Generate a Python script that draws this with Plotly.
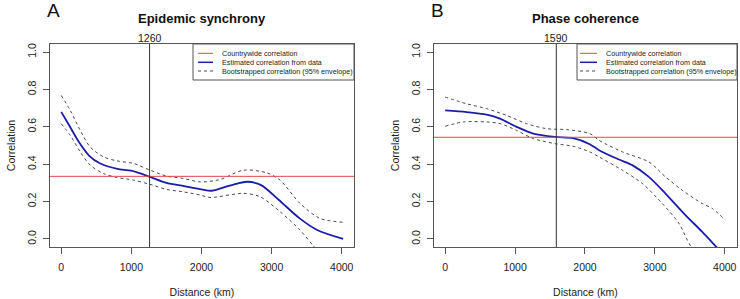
import plotly.graph_objects as go

# ---------------- data ----------------
dist_A_est = [0, 125, 250, 400, 550, 800, 1000, 1260, 1500, 1750, 2000, 2150, 2400, 2650, 2850, 3100, 3400, 3650, 4020]
corr_A_est = [0.68, 0.60, 0.52, 0.445, 0.405, 0.375, 0.365, 0.333, 0.30, 0.283, 0.265, 0.258, 0.285, 0.306, 0.288, 0.21, 0.11, 0.048, 0.0]
dist_A_up = [0, 128, 271, 413, 603, 793, 1030, 1268, 1505, 1742, 1980, 2265, 2597, 2930, 3120, 3405, 3690, 4020]
corr_A_up = [0.768, 0.688, 0.581, 0.492, 0.439, 0.418, 0.404, 0.368, 0.336, 0.324, 0.305, 0.318, 0.368, 0.354, 0.315, 0.19, 0.11, 0.089]
dist_A_lo = [0, 128, 271, 413, 603, 793, 1030, 1258, 1505, 1742, 1980, 2123, 2597, 2835, 3120, 3405, 3595, 3800, 4020]
corr_A_lo = [0.617, 0.555, 0.466, 0.395, 0.35, 0.329, 0.315, 0.293, 0.265, 0.252, 0.235, 0.222, 0.244, 0.226, 0.146, 0.048, -0.037, -0.12, -0.2]

dist_B_est = [0, 309, 594, 785, 1021, 1260, 1569, 1830, 2068, 2201, 2486, 2676, 2914, 3152, 3437, 3675, 3865, 4020]
corr_B_est = [0.688, 0.679, 0.665, 0.644, 0.60, 0.564, 0.546, 0.539, 0.507, 0.475, 0.425, 0.395, 0.332, 0.243, 0.128, 0.039, -0.037, -0.10]
dist_B_up = [0, 309, 594, 879, 1164, 1450, 1735, 2068, 2201, 2534, 2914, 3152, 3390, 3675, 3818, 4008]
corr_B_up = [0.759, 0.723, 0.697, 0.661, 0.617, 0.59, 0.585, 0.564, 0.528, 0.466, 0.412, 0.332, 0.261, 0.19, 0.164, 0.101]
dist_B_lo = [0, 261, 594, 785, 1021, 1260, 1569, 1830, 2068, 2201, 2534, 2819, 3105, 3343, 3510, 3750, 4020]
corr_B_lo = [0.603, 0.626, 0.626, 0.617, 0.581, 0.537, 0.51, 0.496, 0.466, 0.439, 0.368, 0.297, 0.19, 0.084, -0.037, -0.15, -0.27]

countrywide = [0.335, 0.544]
threshold = [1260, 1590]
panel_titles = ["Epidemic synchrony", "Phase coherence"]
panel_letters = ["A", "B"]
legend_labels = ["Countrywide correlation", "Estimated correlation from data",
                 "Bootstrapped correlation (95% envelope)"]
x_ticks = [0, 1000, 2000, 3000, 4000]
y_ticks = [0.0, 0.2, 0.4, 0.6, 0.8, 1.0]

# ---------------- style ----------------
W, H = 740, 299
FONT = "Liberation Sans, Arial, Helvetica, sans-serif"
BLUE = "#1c1caa"
RED = "#e04848"
DASH = "#4a4a4a"
AX = "#555555"

def px(x):
    return x / W

def py(y):
    return 1 - y / H

fig = go.Figure()

series = [
    (dist_A_est, corr_A_est, dist_A_up, corr_A_up, dist_A_lo, corr_A_lo),
    (dist_B_est, corr_B_est, dist_B_up, corr_B_up, dist_B_lo, corr_B_lo),
]
for i, (xe, ye, xu, yu, xl, yl) in enumerate(series):
    xa = "x" if i == 0 else "x2"
    ya = "y" if i == 0 else "y2"
    for xx, yy in ((xu, yu), (xl, yl)):
        fig.add_trace(go.Scatter(x=xx, y=yy, mode="lines", xaxis=xa, yaxis=ya,
                                 line=dict(color=DASH, width=1, dash="3px,3px", shape="spline", smoothing=0.8),
                                 showlegend=False, hoverinfo="skip"))
    fig.add_trace(go.Scatter(x=xe, y=ye, mode="lines", xaxis=xa, yaxis=ya,
                             line=dict(color=BLUE, width=1.8, shape="spline", smoothing=0.8),
                             showlegend=False))

box_left = [50, 434]
box_right = [354, 737]
box_top, box_bot = 44, 247

axis_common = dict(showline=True, linecolor=AX, linewidth=1, mirror=True,
                   ticks="outside", ticklen=6, tickcolor=AX, tickwidth=1,
                   showgrid=False, zeroline=False, automargin=False,
                   tickfont=dict(family=FONT, size=10.5, color="#222"))

layout = dict(width=W, height=H, margin=dict(l=0, r=0, t=0, b=0),
              paper_bgcolor="white", plot_bgcolor="white", showlegend=False)
for i in range(2):
    sfx = "" if i == 0 else "2"
    layout["xaxis" + sfx] = dict(axis_common, domain=[px(box_left[i]), px(box_right[i])],
                                 range=[-160, 4175], tickvals=x_ticks,
                                 ticktext=[str(t) for t in x_ticks],
                                 anchor="y" + sfx, ticklabelstandoff=4,
                                 title=dict(text="Distance (km)", standoff=17,
                                            font=dict(family=FONT, size=10.5, color="#222")))
    layout["yaxis" + sfx] = dict(axis_common, domain=[py(box_bot), py(box_top)],
                                 range=[-0.043, 1.043], tickvals=y_ticks,
                                 ticktext=["%.1f" % t for t in y_ticks],
                                 tickangle=-90, anchor="x" + sfx, ticklabelstandoff=3,
                                 title=dict(text="Correlation", standoff=8,
                                            font=dict(family=FONT, size=10.5, color="#222")))
fig.update_layout(**layout)

for i in range(2):
    xr = "x" if i == 0 else "x2"
    yr = "y" if i == 0 else "y2"
    # countrywide horizontal line
    fig.add_shape(type="line", xref=xr + " domain", yref=yr, x0=0, x1=1,
                  y0=countrywide[i], y1=countrywide[i], line=dict(color=RED, width=1))
    # threshold vertical line
    fig.add_shape(type="line", xref=xr, yref=yr + " domain", x0=threshold[i], x1=threshold[i],
                  y0=0, y1=1, line=dict(color="#333333", width=1))
    fig.add_annotation(x=threshold[i], xref=xr, y=py(38), yref="paper", text=str(threshold[i]),
                       showarrow=False, font=dict(family=FONT, size=10.5, color="#222"),
                       xanchor="center", yanchor="middle")
    # title
    cx = (box_left[i] + box_right[i]) / 2
    fig.add_annotation(x=px(cx), y=py(19), xref="paper", yref="paper",
                       text="<b>%s</b>" % panel_titles[i], showarrow=False,
                       font=dict(family=FONT, size=13, color="#111"),
                       xanchor="center", yanchor="middle")
    # letter
    fig.add_annotation(x=px(box_left[i] - 5), y=py(11), xref="paper", yref="paper",
                       text=panel_letters[i], showarrow=False,
                       font=dict(family=FONT, size=19, color="#111"),
                       xanchor="left", yanchor="middle")

# manual legends
leg_box = [(193, 354), (577, 737)]
leg_line = [(198, 213), (580, 597)]
leg_text_x = [220, 604]
rows = [53.3, 62.3, 71.0]
styles = [dict(color=RED, width=1), dict(color=BLUE, width=1.5), dict(color=DASH, width=1, dash="3px,3px")]
for i in range(2):
    fig.add_shape(type="rect", xref="paper", yref="paper",
                  x0=px(leg_box[i][0]), x1=px(leg_box[i][1]), y0=py(80), y1=py(box_top),
                  line=dict(color=AX, width=1), fillcolor="white", layer="above")
    for r, lab, st in zip(rows, legend_labels, styles):
        fig.add_shape(type="line", xref="paper", yref="paper",
                      x0=px(leg_line[i][0]), x1=px(leg_line[i][1]), y0=py(r), y1=py(r),
                      line=st, layer="above")
        fig.add_annotation(x=px(leg_text_x[i]), y=py(r), xref="paper", yref="paper",
                           text=lab, showarrow=False, xanchor="left", yanchor="middle",
                           font=dict(family=FONT, size=7.2, color="#222"))

fig.write_html("out.html", config={"displayModeBar": False},
               post_script="document.body.style.margin='0';document.body.style.padding='0';")
